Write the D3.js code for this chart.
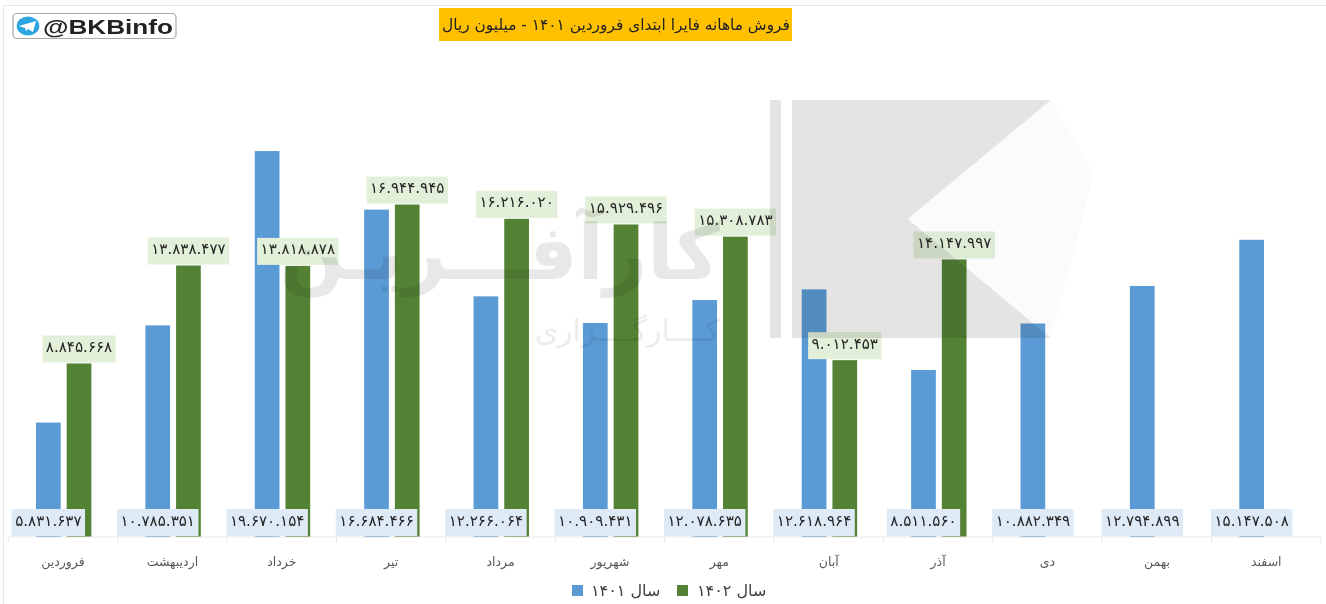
<!DOCTYPE html>
<html>
<head>
<meta charset="utf-8">
<script src="https://cdn.jsdelivr.net/npm/d3@7"></script>
<style>
html,body{margin:0;padding:0;background:#fff;overflow:hidden}
text{font-family:"DejaVu Sans","Noto Sans",sans-serif}
</style>
</head>
<body>
<div id="chart"></div>
<script>
var aMonths=["فروردین","اردیبهشت","خرداد","تیر","مرداد","شهریور","مهر","آبان","آذر","دی","بهمن","اسفند"];
var aSales1401=[5831637,10785351,19670154,16684466,12266064,10909431,12078635,12618964,8511560,10882349,12794899,15147508];
var aSales1402=[8845668,13838477,13818878,16944945,16216020,15929496,15308783,9012453,14147997];
var aSeries=["سال ۱۴۰۱","سال ۱۴۰۲"];
var aColors=["#5b9bd5","#548235"];
var sTitle="فروش ماهانه فایرا ابتدای فروردین ۱۴۰۱ - میلیون ریال";

var iWidth=1326, iHeight=604;
var iBase=537;

var svg=d3.select("#chart").append("svg").attr("width",iWidth).attr("height",iHeight);

// frame edges
svg.append("path").attr("d","M3.5,604V5.5H1326").attr("fill","none").attr("stroke","#e8e8e8");

var x0=d3.scaleBand().domain(aMonths).range([8.3,1321]);
var x1=d3.scaleBand().domain([0,1]).range([0,x0.bandwidth()]).paddingInner(0.195).paddingOuter(0.879).align(0.513);
var y=d3.scaleLinear().domain([0,20000000]).range([iBase,144.6]);

function fPersian(iValue)
{
	return d3.format(",")(iValue).replace(/\d/g,function(c){return "۰۱۲۳۴۵۶۷۸۹"[+c];}).replace(/,/g,".");
}

// bars
var gBars=svg.append("g");
[aSales1401,aSales1402].forEach(function(aValues,iSeries){
	gBars.selectAll(".s"+iSeries).data(aValues).enter().append("rect")
		.attr("class","s"+iSeries)
		.attr("x",function(d,i){return x0(aMonths[i])+x1(iSeries);})
		.attr("y",function(d){return y(d);})
		.attr("width",x1.bandwidth())
		.attr("height",function(d){return iBase-y(d);})
		.attr("fill",aColors[iSeries]);
});

// axis
var gAxis=svg.append("g").attr("transform","translate(0,"+iBase+")");
gAxis.append("line").attr("x1",8.3).attr("x2",1321).attr("stroke","#e8e8e8");
d3.range(13).forEach(function(i){
	var xTick=8.3+i*x0.bandwidth();
	gAxis.append("line").attr("x1",xTick).attr("x2",xTick).attr("y1",0).attr("y2",6).attr("stroke","#e8e8e8");
});
gAxis.selectAll(".month").data(aMonths).enter().append("text")
	.attr("x",function(d){return x0(d)+x0.bandwidth()/2;})
	.attr("y",29).attr("text-anchor","middle").attr("font-size",12.5).attr("fill","#595959")
	.text(function(d){return d;});

// data labels, box sized from the text
function fLabel(aValues,iSeries,bTop)
{
	var gLabels=svg.append("g");
	aValues.forEach(function(d,i){
		var xMid=x0(aMonths[i])+x1(iSeries)+x1.bandwidth()/2;
		var yMid=bTop ? y(d)-14.5 : 522.5;
		var myBox=gLabels.append("rect");
		var myText=gLabels.append("text").attr("x",xMid).attr("y",yMid+3).attr("text-anchor","middle")
			.attr("font-size",15.1).attr("fill","#262626").text(fPersian(d));
		var iBox=myText.node().getComputedTextLength()+7;
		myBox.attr("x",xMid-iBox/2).attr("y",yMid-13.5).attr("width",iBox).attr("height",27)
			.attr("fill",bTop ? "#e2efd9" : "#deeaf6");
	});
}
fLabel(aSales1401,0,false);
fLabel(aSales1402,1,true);

// legend
var aLegendBox=[572,677], aLegendText=[591,697];
var gLegend=svg.append("g").attr("transform","translate(0,590)");
aSeries.forEach(function(s,i){
	gLegend.append("rect").attr("x",aLegendBox[i]).attr("y",-5).attr("width",11).attr("height",11).attr("fill",aColors[i]);
	gLegend.append("text").attr("x",aLegendText[i]).attr("y",6).attr("font-size",16).attr("fill","#404040").text(s);
});

// title
svg.append("rect").attr("x",439).attr("y",8).attr("width",353).attr("height",33).attr("fill","#ffc000");
svg.append("text").attr("x",616).attr("y",30).attr("text-anchor","middle").attr("font-size",15.4).attr("fill","#222").text(sTitle);

// telegram tag
var gTag=svg.append("g");
gTag.append("rect").attr("x",13).attr("y",13.5).attr("width",163).attr("height",25).attr("rx",4)
	.attr("fill","#fff").attr("stroke","#aaa").attr("stroke-width",1.2);
gTag.append("ellipse").attr("cx",28).attr("cy",26).attr("rx",11.3).attr("ry",9.5).attr("fill","#2ca5e0");
gTag.append("path").attr("d","M19,26L36,21L33,32L28,29L26,31L25,28Z").attr("fill","#fff");
gTag.append("text").attr("x",43).attr("y",33.5).attr("font-size",20).attr("font-weight","bold")
	.attr("textLength",130).attr("lengthAdjust","spacingAndGlyphs")
	.style("font-family","'Liberation Sans',sans-serif").attr("fill","#222").text("@BKBinfo");

// watermark, multiplied over everything below it
var gMark=svg.append("g").style("mix-blend-mode","multiply");
gMark.append("path").attr("d","M770,100H781V338H770Z").attr("fill","#e4e4e4");
gMark.append("path").attr("d","M792,100H1051L908,219L1051,338H792Z").attr("fill","#e4e4e4");
gMark.append("path").attr("d","M1051,100L1094,173L1051,338L908,219Z").attr("fill","#fbfbfb");
gMark.append("text").attr("x",720).attr("y",279).attr("text-anchor","end").attr("font-size",76).attr("font-weight","bold")
	.attr("fill","#e8e8e8").text("کارآفـــریـن");
gMark.append("text").attr("x",720).attr("y",341).attr("text-anchor","end").attr("font-size",30)
	.attr("fill","#ececec").text("کــــارگــــزاری");
</script>
</body>
</html>
